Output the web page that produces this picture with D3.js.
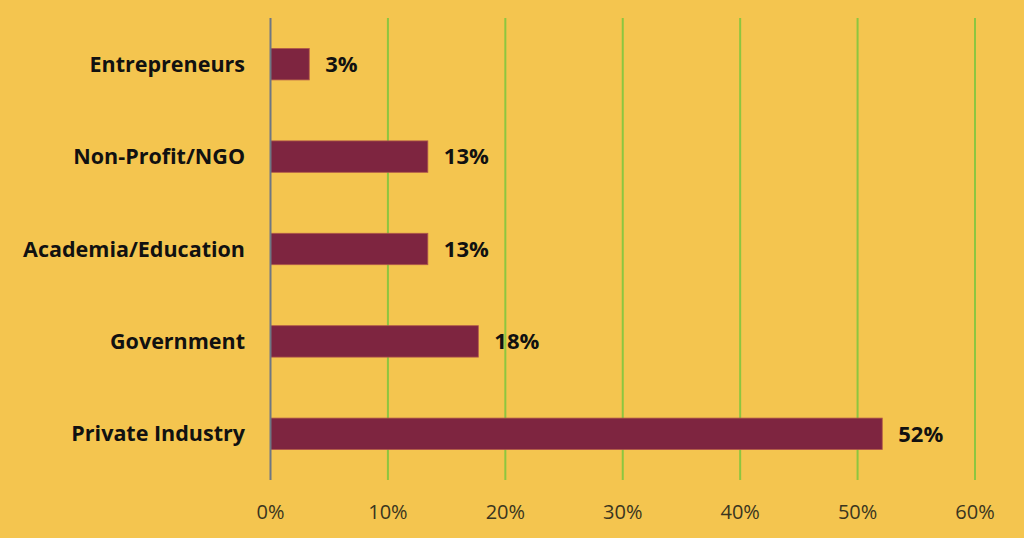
<!DOCTYPE html>
<html><head><meta charset="utf-8">
<script src="https://cdn.jsdelivr.net/npm/d3@7"></script>
<style>html,body{margin:0;padding:0;background:#F4C54F;}svg{display:block;}</style>
</head><body><svg id="c" width="1024" height="538"></svg>
<script>
const categories = ["Entrepreneurs", "Non-Profit/NGO", "Academia/Education", "Government", "Private Industry"];
const values = [3.3, 13.4, 13.4, 17.7, 52.1];
const tickValues = [0, 10, 20, 30, 40, 50, 60];
const tickLabels = ["0%", "10%", "20%", "30%", "40%", "50%", "60%"];

const svg = d3.select("#c");
svg.append("rect").attr("width",1024).attr("height",538).attr("fill","#F4C54F");
const x = d3.scaleLinear().domain([0,60]).range([270.5,975]);
const y = d3.scaleBand().domain(categories).range([18,480]).paddingInner(0.66).paddingOuter(0.33);

// gridlines
svg.append("g").selectAll("line").data(tickValues.slice(1)).join("line")
  .attr("x1",d=>x(d)).attr("x2",d=>x(d)).attr("y1",18).attr("y2",480)
  .attr("stroke","#8DC63F").attr("stroke-width",2);

// bars
svg.append("g").selectAll("rect").data(categories).join("rect")
  .attr("x",x(0)).attr("y",c=>y(c)).attr("height",y.bandwidth())
  .attr("width",(c,i)=>x(values[i])-x(0))
  .attr("fill","#7E2540").attr("stroke","#B0584A").attr("stroke-width",0.8);

// axis line
svg.append("line").attr("x1",x(0)).attr("x2",x(0)).attr("y1",18).attr("y2",480)
  .attr("stroke","#6E7783").attr("stroke-width",2);

// category labels
svg.append("g").selectAll("text").data(categories).join("text")
  .attr("x",245).attr("y",c=>y(c)+y.bandwidth()/2).attr("dy","0.35em")
  .attr("text-anchor","end").attr("font-family","Open Sans, sans-serif")
  .attr("font-weight","bold").attr("font-size",21.5).attr("fill","#111").text(c=>c);

// value labels
const fmt = d3.format(".0f");
svg.append("g").selectAll("text").data(categories).join("text")
  .attr("x",(c,i)=>x(values[i])+16).attr("y",c=>y(c)+y.bandwidth()/2).attr("dy","0.35em")
  .attr("font-family","Open Sans, sans-serif")
  .attr("font-weight","bold").attr("font-size",22).attr("fill","#111").text((c,i)=>fmt(values[i])+"%");

// tick labels
svg.append("g").selectAll("text").data(tickValues).join("text")
  .attr("x",d=>x(d)).attr("y",512).attr("dy","0.35em").attr("text-anchor","middle")
  .attr("font-family","Open Sans, sans-serif").attr("font-size",20).attr("fill","#3A3520")
  .text((d,i)=>tickLabels[i]);
</script></body></html>
